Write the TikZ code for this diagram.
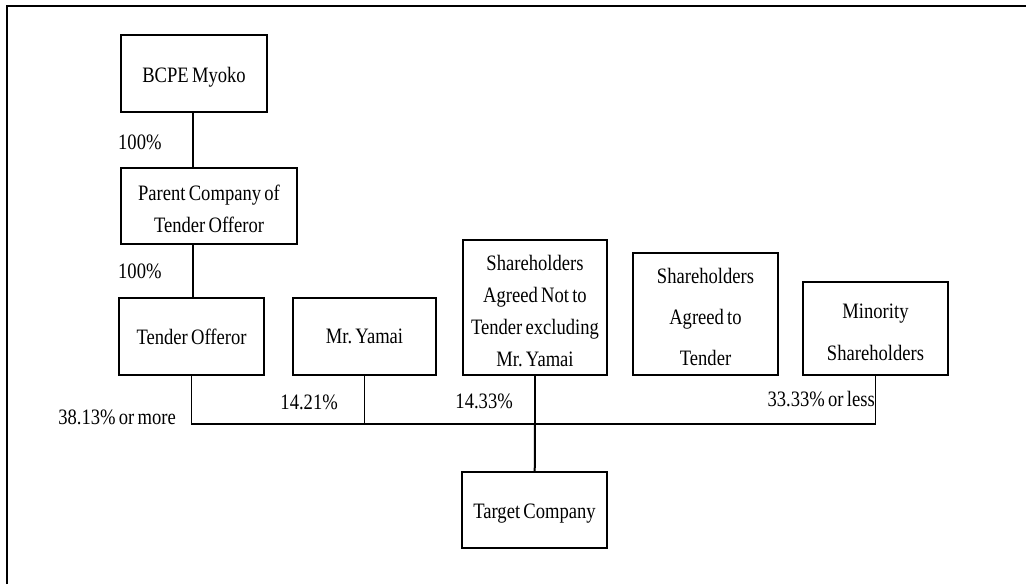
\documentclass[tikz,border=0pt]{standalone}
\usepackage{fontspec}
\setmainfont[FakeStretch=0.845,WordSpace=0.7]{Liberation Serif}
\frenchspacing
% extra head room on the first line pushes box texts slightly down
\newcommand\headroom{\rule{0pt}{22pt}}
\begin{document}
\begin{tikzpicture}[x=1pt,y=-1pt,
  box/.style={draw,line width=1.9pt,inner sep=0pt,align=center,
    font=\fontsize{22}{32}\selectfont},
  pct/.style={inner sep=0pt,font=\fontsize{22}{26}\selectfont},
  conn/.style={line width=1.3pt},
  conn thick/.style={line width=2pt}]
\useasboundingbox (0,0) rectangle (1026,584);
% outer frame (left and top edges only)
\draw[line width=1.4pt] (7,584) -- (7,6) -- (1026,6);

% entities
\node[box,minimum width=146pt,minimum height=77pt] (bcpe) at (194,73.5) {\headroom BCPE Myoko};
\node[box,minimum width=176pt,minimum height=76pt] (par) at (209,206) {\headroom Parent Company of\\Tender Offeror};
\node[box,minimum width=145pt,minimum height=77pt] (to) at (191.5,336.5) {Tender Offeror};
\node[box,minimum width=143pt,minimum height=77pt] (ym) at (364.5,336.5) {Mr. Yamai};
\node[box,minimum width=144pt,minimum height=135pt] (sn) at (535,307.5) {\headroom Shareholders\\Agreed Not to\\Tender excluding\\Mr. Yamai};
\node[box,minimum width=145pt,minimum height=122pt,font=\fontsize{22}{41}\selectfont] (sa) at (705.5,314) {\headroom Shareholders\\Agreed to\\Tender};
\node[box,minimum width=145pt,minimum height=93pt,font=\fontsize{22}{42}\selectfont] (mino) at (875.5,328.5) {\headroom Minority\\Shareholders};
\node[box,minimum width=145pt,minimum height=76pt] (tc) at (534.5,510) {\headroom Target Company};

% ownership links
\draw[conn] (bcpe.south -| 193,0) -- (par.north -| 193,0);
\draw[conn] (par.south -| 193,0) -- (to.north -| 193,0);
\coordinate (bus) at (0,424);
\draw[conn] (to) -- (to |- bus) -- (mino |- bus) -- (mino);
\draw[conn] (ym) -- (ym |- bus);
\draw[conn] (sn) -- (sn |- bus);
\draw[conn thick] (sn |- bus) -- (tc);

% shareholding ratios
\node[pct,anchor=base west] (p1) at (118,149) {100\%};
\node[pct,anchor=base west] (p2) at (118,278) {100\%};
\node[pct,anchor=base east] (p3) at (176,424) {38.13\% or more};
\node[pct,anchor=base east] (p4) at (338,409) {14.21\%};
\node[pct,anchor=base east] (p5) at (513,408) {14.33\%};
\node[pct,anchor=base east] (p6) at (875,406) {33.33\% or less};
\end{tikzpicture}
\end{document}
